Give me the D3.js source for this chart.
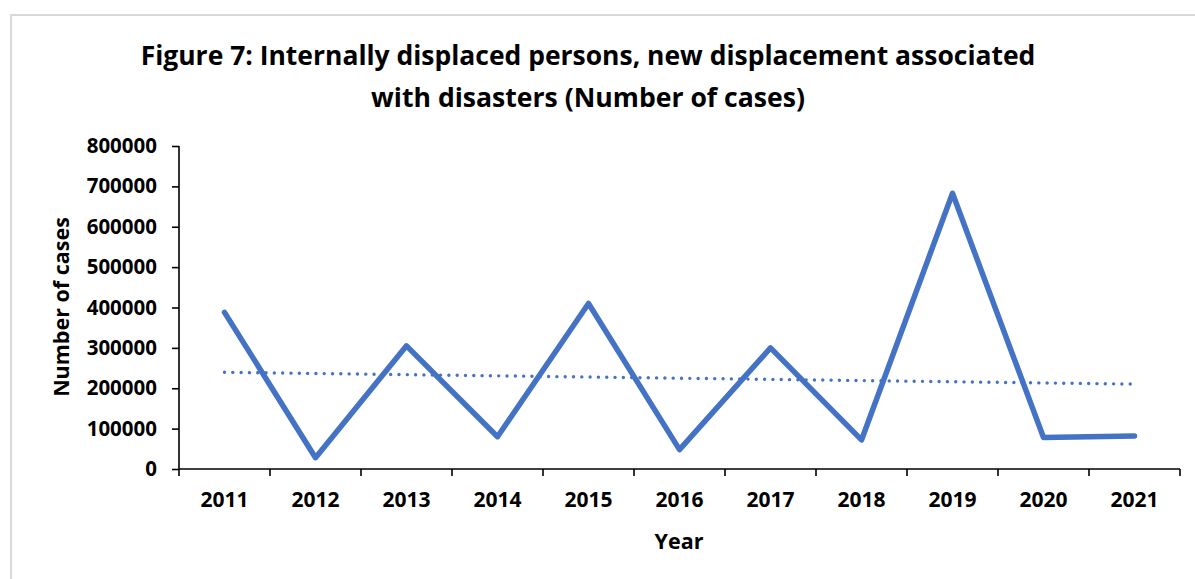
<!DOCTYPE html>
<html>
<head>
<meta charset="utf-8">
<script src="https://cdn.jsdelivr.net/npm/d3@7"></script>
<style>
  html, body { margin: 0; padding: 0; background: #fff; }
  svg { display: block; }
  text { font-family: "Open Sans", "Noto Sans", sans-serif; font-weight: 700; fill: #000; }
</style>
</head>
<body>
<svg id="chart" width="1195" height="579"></svg>
<script>
// New displacement associated with disasters, by year
const years = ["2011", "2012", "2013", "2014", "2015", "2016", "2017", "2018", "2019", "2020", "2021"];
const cases = [388000, 28000, 305000, 80000, 410000, 48000, 300000, 72000, 683000, 78000, 82000];
const yTicks = [0, 100000, 200000, 300000, 400000, 500000, 600000, 700000, 800000];
const titleLines = ["Figure 7: Internally displaced persons, new displacement associated",
                    "with disasters (Number of cases)"];

const W = 1195, H = 579;
const margin = { left: 179, top: 146 };
const plotRight = 1180, plotBottom = 469;

const svg = d3.select("#chart");

// chart frame
svg.append("rect")
  .attr("x", 11).attr("y", 15)
  .attr("width", W + 20).attr("height", H + 20)
  .attr("fill", "#fff").attr("stroke", "#d9d9d9").attr("stroke-width", 2);

const x = d3.scaleBand().domain(years).range([margin.left, plotRight]).padding(0);
const y = d3.scaleLinear().domain([0, 800000]).range([plotBottom, margin.top]);

// title, each line sized to its span
const titleSpec = [{ t: titleLines[0], y: 65, w: 895 }, { t: titleLines[1], y: 107, w: 434 }];
titleSpec.forEach(s => {
  const t = svg.append("text")
    .attr("x", 588).attr("y", s.y)
    .attr("text-anchor", "middle")
    .style("font-size", "26px")
    .text(s.t);
  const len = t.node().getComputedTextLength();
  t.style("font-size", (26 * s.w / len).toFixed(2) + "px");
});

// y axis
const yAxis = d3.axisLeft(y).tickValues(yTicks).tickSize(7).tickPadding(15)
  .tickFormat(d3.format("d"));
const gy = svg.append("g").attr("transform", `translate(${margin.left},0)`).call(yAxis);
gy.select(".domain").attr("d", `M0,${margin.top}V${plotBottom}`);
gy.selectAll("path, line").attr("stroke", "#000").attr("stroke-width", 1.6);
gy.selectAll("text").style("font-size", "20.5px").style("font-family", "'Open Sans', sans-serif")
  .style("font-weight", 700).attr("fill", "#000");

// x axis with ticks on category boundaries
const gx = svg.append("g").attr("transform", `translate(0,${plotBottom})`);
gx.append("line").attr("x1", margin.left).attr("x2", plotRight)
  .attr("stroke", "#000").attr("stroke-width", 1.6);
const bounds = years.map(d => x(d)).concat([plotRight]);
gx.selectAll("line.tick").data(bounds).join("line").attr("class", "tick")
  .attr("x1", d => d).attr("x2", d => d).attr("y1", 0).attr("y2", 7)
  .attr("stroke", "#000").attr("stroke-width", 1.6);
gx.selectAll("text").data(years).join("text")
  .attr("x", d => x(d) + x.bandwidth() / 2).attr("y", 38)
  .attr("text-anchor", "middle").style("font-size", "21px")
  .text(d => d);

// axis titles
svg.append("text").attr("x", 679).attr("y", 549).attr("text-anchor", "middle")
  .style("font-size", "21.5px").text("Year");
svg.append("text").attr("transform", "translate(69,307) rotate(-90)")
  .attr("text-anchor", "middle").style("font-size", "21.5px").text("Number of cases");

// data line
const pts = years.map((d, i) => ({ year: d, v: cases[i] }));
const line = d3.line().x(d => x(d.year) + x.bandwidth() / 2).y(d => y(d.v));
svg.append("path").datum(pts).attr("d", line)
  .attr("fill", "none").attr("stroke", "#4472c4").attr("stroke-width", 5.5)
  .attr("stroke-linejoin", "round").attr("stroke-linecap", "round");

// linear trend (least squares over the series)
const n = cases.length;
const idx = d3.range(1, n + 1);
const mx = d3.mean(idx), my = d3.mean(cases);
const slope = d3.sum(idx, (k, i) => (k - mx) * (cases[i] - my)) / d3.sum(idx, k => (k - mx) ** 2);
const icpt = my - slope * mx;
const trend = [
  { year: years[0], v: icpt + slope * 1 },
  { year: years[n - 1], v: icpt + slope * n }
];
svg.append("path").datum(trend).attr("d", line)
  .attr("fill", "none").attr("stroke", "#4472c4").attr("stroke-width", 3.4)
  .attr("stroke-linecap", "round").attr("stroke-dasharray", "0.01 8.3");
</script>
</body>
</html>
